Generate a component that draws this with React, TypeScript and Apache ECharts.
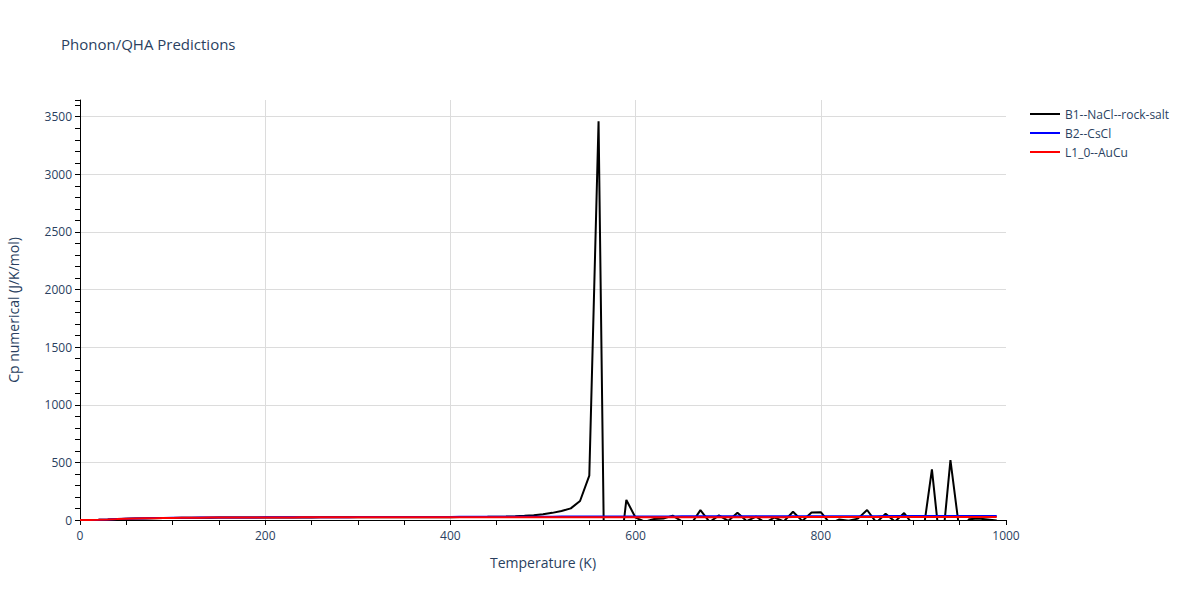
import React, { useEffect, useRef } from "react";
import * as echarts from "echarts";

const temperatures = [
  0, 10, 20, 30, 40, 50, 60, 70, 80, 90,
  100, 110, 120, 130, 140, 150, 160, 170, 180, 190,
  200, 210, 220, 230, 240, 250, 260, 270, 280, 290,
  300, 310, 320, 330, 340, 350, 360, 370, 380, 390,
  400, 410, 420, 430, 440, 450, 460, 470, 480, 490,
  500, 510, 520, 530, 540, 550, 560, 570, 580, 590,
  600, 610, 620, 630, 640, 650, 660, 670, 680, 690,
  700, 710, 720, 730, 740, 750, 760, 770, 780, 790,
  800, 810, 820, 830, 840, 850, 860, 870, 880, 890,
  900, 910, 920, 930, 940, 950, 960, 970, 980, 990,
];

const b1NaCl = [
  0, 0.2, 1.6, 4.0, 7.0, 9.8, 12.2, 14.1, 15.6, 16.8,
  17.8, 18.6, 19.3, 19.8, 20.3, 20.7, 21.0, 21.3, 21.6, 21.8,
  22.0, 22.2, 22.3, 22.5, 22.6, 22.7, 22.8, 22.9, 23.0, 23.1,
  23.2, 23.3, 23.4, 23.5, 23.6, 23.7, 23.8, 24.0, 24.2, 24.4,
  24.7, 25.1, 25.6, 26.3, 27.2, 28.4, 30.0, 32.5, 36, 42,
  50, 62, 78, 101, 165, 385, 3460, -2830, -520, 174,
  20, -15, 8, 12, 38, -12, -35, 86, -18, 40,
  -8, 62, -10, 30, -25, 22, -12, 72, -8, 66,
  68, -30, 4, -6, 12, 87, -22, 55, -14, 60,
  -45, -140, 440, -320, 520, -110, 6, 12, 4, -5,
];

const b2CsCl = [
  0, 0.4, 2.4, 5.3, 8.5, 11.3, 13.6, 15.4, 16.8, 17.9,
  18.8, 19.6, 20.2, 20.7, 21.1, 21.5, 21.8, 22.1, 22.4, 22.7,
  22.9, 23.2, 23.4, 23.6, 23.8, 24.0, 24.2, 24.4, 24.6, 24.8,
  25.0, 25.2, 25.4, 25.6, 25.8, 26.0, 26.2, 26.4, 26.6, 26.8,
  27.0, 27.2, 27.4, 27.6, 27.8, 28.0, 28.2, 28.4, 28.6, 28.8,
  29.0, 29.2, 29.4, 29.6, 29.8, 30.0, 30.2, 30.4, 30.6, 30.8,
  31.0, 31.1, 31.2, 31.3, 31.4, 31.5, 31.6, 31.7, 31.8, 31.9,
  32.0, 32.1, 32.2, 32.3, 32.4, 32.5, 32.6, 32.7, 32.8, 32.9,
  33.0, 33.1, 33.2, 33.3, 33.4, 33.5, 33.6, 33.7, 33.8, 33.9,
  34.0, 34.0, 34.1, 34.1, 34.2, 34.2, 34.3, 34.3, 34.4, 34.4,
];

const l10AuCu = [
  0, 0.3, 2.0, 4.6, 7.6, 10.4, 12.7, 14.6, 16.1, 17.3,
  18.3, 19.1, 19.7, 20.2, 20.7, 21.0, 21.3, 21.6, 21.9, 22.1,
  22.3, 22.4, 22.6, 22.7, 22.8, 22.9, 23.0, 23.1, 23.2, 23.3,
  23.3, 23.4, 23.4, 23.5, 23.5, 23.6, 23.6, 23.7, 23.7, 23.8,
  23.8, 23.8, 23.9, 23.9, 23.9, 24.0, 24.0, 24.0, 24.1, 24.1,
  24.1, 24.2, 24.2, 24.2, 24.3, 24.3, 24.3, 24.4, 24.4, 24.4,
  24.5, 24.5, 24.5, 24.5, 24.6, 24.6, 24.6, 24.7, 24.7, 24.7,
  24.8, 24.8, 24.8, 24.8, 24.9, 24.9, 24.9, 25.0, 25.0, 25.0,
  25.0, 25.1, 25.1, 25.1, 25.2, 25.2, 25.2, 25.2, 25.3, 25.3,
  25.3, 25.4, 25.4, 25.4, 25.4, 25.5, 25.5, 25.5, 25.6, 25.6,
];

const seriesNames = ["B1--NaCl--rock-salt", "B2--CsCl", "L1_0--AuCu"];
const seriesColors = ["#000000", "#0000ff", "#ff0000"];
const seriesValues = [b1NaCl, b2CsCl, l10AuCu];

const textColor = "#2a3f5f";
const gridColor = "#dcdcdc";
const fontFamily = '"Open Sans", Verdana, Arial, sans-serif';

export default function App() {
  const ref = useRef<HTMLDivElement>(null);

  useEffect(() => {
    document.body.style.margin = "0";
    if (!ref.current) return;
    const chart = echarts.init(ref.current, null, { renderer: "svg" });
    chart.setOption({
      animation: false,
      backgroundColor: "#ffffff",
      textStyle: { fontFamily },
      title: {
        text: "Phonon/QHA Predictions",
        left: 56,
        top: 31,
        textStyle: { color: textColor, fontSize: 15, fontWeight: "normal", fontFamily },
      },
      legend: {
        orient: "vertical",
        left: 1025,
        top: 103,
        itemWidth: 30,
        itemHeight: 2,
        itemGap: 7,
        icon: "rect",
        data: seriesNames,
        textStyle: { color: textColor, fontSize: 12, fontFamily, padding: [0, 0, 0, 0] },
      },
      grid: { left: 80, top: 100, width: 926, height: 420, containLabel: false, outerBoundsMode: "none" },
      xAxis: {
        type: "value",
        min: 0,
        max: 1000,
        interval: 200,
        name: "Temperature (K)",
        nameLocation: "middle",
        nameGap: 35,
        nameTextStyle: { color: textColor, fontSize: 14, fontFamily },
        axisLine: { show: true, onZero: false, lineStyle: { color: "#000", width: 1 } },
        axisTick: { show: true, inside: false, length: 5, lineStyle: { color: "#000" } },
        minorTick: { show: true, splitNumber: 4, length: 5, lineStyle: { color: "#000" } },
        axisLabel: { color: textColor, fontSize: 12, margin: 9, fontFamily, formatter: (v: number) => String(v) },
        splitLine: {
          show: true,
          lineStyle: { color: [gridColor, gridColor, gridColor, gridColor, gridColor, "rgba(0,0,0,0)"], width: 1 },
        },
      },
      yAxis: {
        type: "value",
        min: 0,
        max: 3645,
        interval: 500,
        name: "Cp numerical (J/K/mol)",
        nameLocation: "middle",
        nameGap: 60,
        nameTextStyle: { color: textColor, fontSize: 14, fontFamily },
        axisLine: { show: true, lineStyle: { color: "#000", width: 1 } },
        axisTick: { show: true, inside: false, length: 5, lineStyle: { color: "#000" } },
        minorTick: { show: true, splitNumber: 5, length: 5, lineStyle: { color: "#000" } },
        axisLabel: {
          color: textColor,
          fontSize: 12,
          margin: 8,
          fontFamily,
          showMaxLabel: false,
          formatter: (v: number) => String(v),
        },
        splitLine: {
          show: true,
          lineStyle: {
            color: [gridColor, gridColor, gridColor, gridColor, gridColor, gridColor, gridColor, gridColor, "rgba(0,0,0,0)"],
            width: 1,
          },
        },
      },
      series: seriesNames.map((name, i) => ({
        name,
        type: "line",
        data: temperatures.map((t, j) => [t, seriesValues[i][j]]),
        showSymbol: false,
        symbol: "none",
        clip: true,
        color: seriesColors[i],
        lineStyle: { color: seriesColors[i], width: 2 },
        z: 2 + i,
      })),
    });
    return () => chart.dispose();
  }, []);

  return <div ref={ref} style={{ width: 1200, height: 600 }} />;
}
